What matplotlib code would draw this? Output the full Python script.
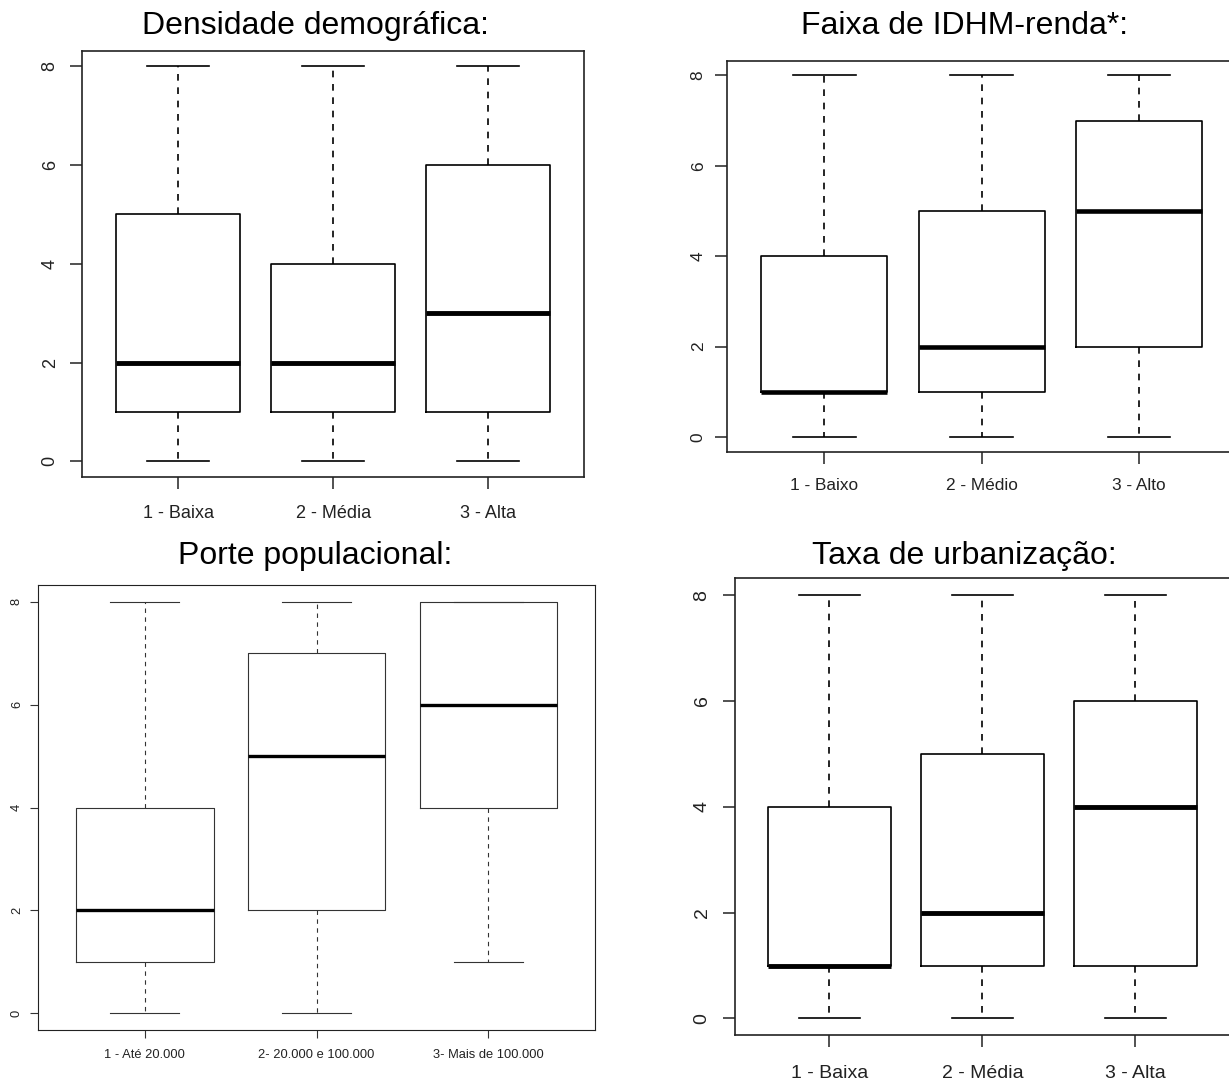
import matplotlib
matplotlib.use("Agg")
import matplotlib.pyplot as plt

plt.rcParams['font.family'] = ['Liberation Sans', 'DejaVu Sans']

W, H = 1229, 1084

# five-number summaries per group: (whisker low, q1, median, q3, whisker high)
densidade_labels = ["1 - Baixa", "2 - Média", "3 - Alta"]
densidade_stats = [(0, 1, 2, 5, 8), (0, 1, 2, 4, 8), (0, 1, 3, 6, 8)]

idhm_labels = ["1 - Baixo", "2 - Médio", "3 - Alto"]
idhm_stats = [(0, 1, 1, 4, 8), (0, 1, 2, 5, 8), (0, 2, 5, 7, 8)]

porte_labels = ["1 - Até 20.000", "2- 20.000 e 100.000", "3- Mais de 100.000"]
porte_stats = [(0, 1, 2, 4, 8), (0, 2, 5, 7, 8), (1, 4, 6, 8, 8)]

urban_labels = ["1 - Baixa", "2 - Média", "3 - Alta"]
urban_stats = [(0, 1, 1, 4, 8), (0, 1, 2, 5, 8), (0, 1, 4, 6, 8)]

y_ticks = [0, 2, 4, 6, 8]

fig = plt.figure(figsize=(W / 100, H / 100), dpi=100)


def px_axes(left, top, right, bottom):
    return fig.add_axes([left / W, 1 - bottom / H, (right - left) / W, (bottom - top) / H])


def panel(ax, title, title_xy, labels, stats, fsize, tick_len, xpad, ypad, lw, med_lw, color):
    data = [dict(whislo=s[0], q1=s[1], med=s[2], q3=s[3], whishi=s[4], label=l)
            for l, s in zip(labels, stats)]
    ax.bxp(data, positions=[1, 2, 3], widths=0.8, capwidths=0.4, showfliers=False,
           boxprops=dict(color=color, lw=lw),
           whiskerprops=dict(color=color, lw=lw, linestyle=(0, (4, 4))),
           capprops=dict(color=color, lw=lw),
           medianprops=dict(color='black', lw=med_lw, solid_capstyle='butt'))
    ax.set_xlim(0.38, 3.62)
    ax.set_ylim(-0.32, 8.32)
    ax.set_yticks(y_ticks)
    ax.set_yticklabels([str(v) for v in y_ticks])
    ax.tick_params(axis='both', length=tick_len, width=lw, color='#333333',
                   labelsize=fsize, labelcolor='#222222')
    ax.tick_params(axis='x', pad=xpad)
    ax.tick_params(axis='y', pad=ypad, labelrotation=90)
    for t in ax.get_yticklabels():
        t.set_va('center')
    for sp in ax.spines.values():
        sp.set_linewidth(lw)
        sp.set_color('#222222')
    fig.text(title_xy[0] / W, 1 - title_xy[1] / H, title, fontsize=23,
             ha='center', va='center', color='black')


ax1 = px_axes(82.3, 50.6, 584.3, 477)
panel(ax1, "Densidade demográfica:", (315, 26), densidade_labels, densidade_stats,
      13, 8.5, 11.5, 8.5, 1.2, 3.5, 'black')

ax2 = px_axes(726.8, 61, 1236.5, 451.5)
panel(ax2, "Faixa de IDHM-renda*:", (964.6, 26), idhm_labels, idhm_stats,
      12.4, 8.4, 10.5, 6.8, 1.2, 3.3, 'black')

ax3 = px_axes(38.3, 585.1, 595, 1029.9)
panel(ax3, "Porte populacional:", (314.7, 556), porte_labels, porte_stats,
      9.3, 5.6, 8.2, 5.5, 0.8, 2.4, '#333333')

ax4 = px_axes(734.6, 578.2, 1230.2, 1035.4)
panel(ax4, "Taxa de urbanização:", (964.7, 556), urban_labels, urban_stats,
      14, 8.5, 12.5, 8.8, 1.2, 3.5, 'black')

fig.savefig("out.png", dpi=100)
